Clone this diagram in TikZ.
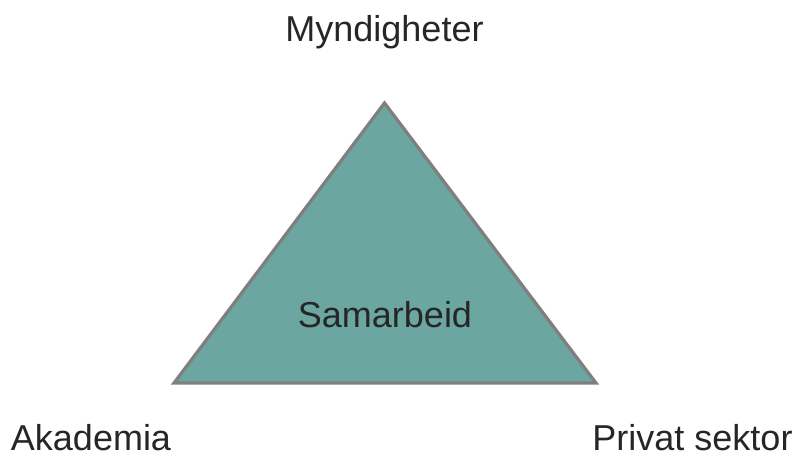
\documentclass[tikz,border=0pt]{standalone}
\usepackage{fontspec}
\setmainfont{Liberation Sans}
\definecolor{teal1}{HTML}{6BA6A1}
\definecolor{edgegray}{HTML}{7F7F7F}
\definecolor{txt}{HTML}{262626}
\begin{document}
\begin{tikzpicture}[x=1pt,y=1pt,
  lbl/.style={inner sep=0pt,anchor=base,text=txt,font=\fontsize{36}{40}\selectfont}]
\useasboundingbox (0,0) rectangle (796,457);
\coordinate (apex) at (384.5,354);
\coordinate (bl) at (174,74);
\coordinate (br) at (596,74);
\draw[draw=edgegray,fill=teal1,line width=3.2pt,line join=miter] (apex) -- (br) -- (bl) -- cycle;
\node[lbl] (top) at (384.5,415) {Myndigheter};
\node[lbl] (mid) at (385,129) {Samarbeid};
\node[lbl] (left) at (91,6) {Akademia};
\node[lbl] (right) at (692.5,6) {Privat sektor};
\end{tikzpicture}
\end{document}
